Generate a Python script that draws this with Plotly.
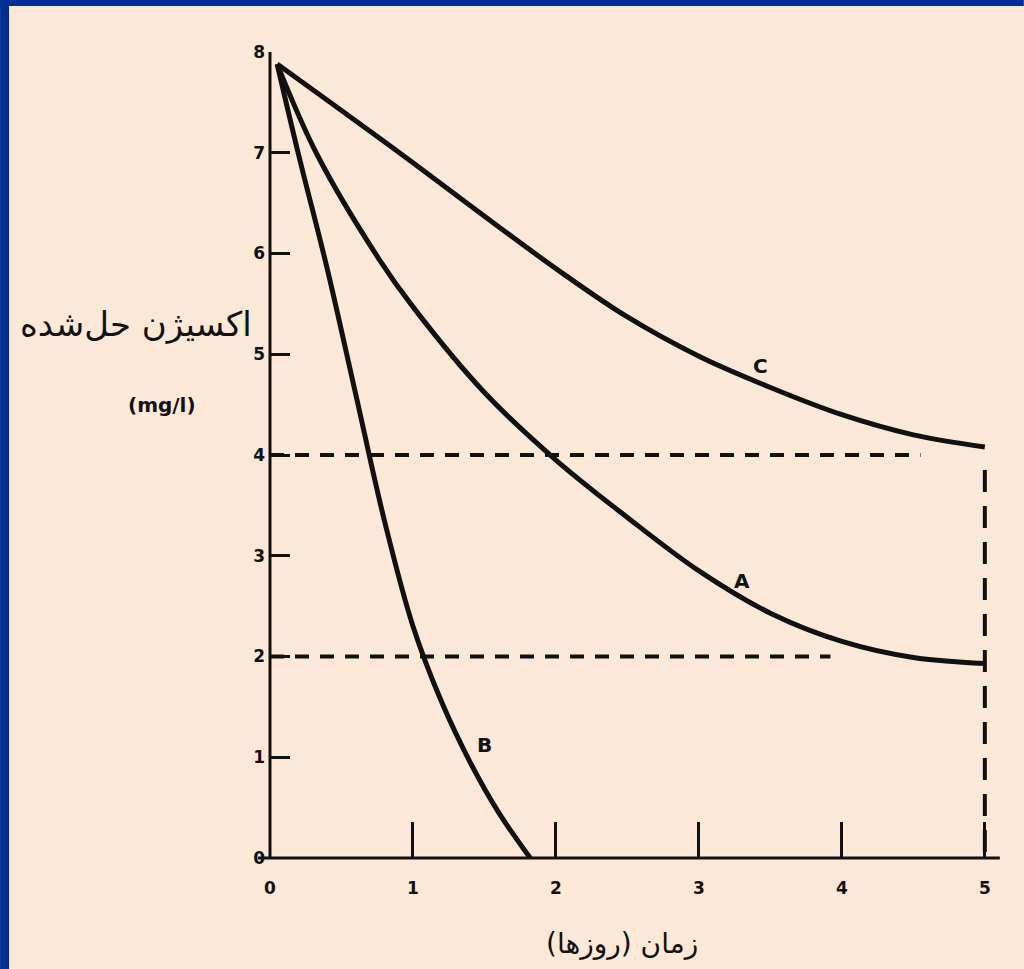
import plotly.graph_objects as go

# Dissolved-oxygen sag curves (mg/l) against time (days)
days_a = [0.05, 0.33, 0.76, 1.0, 1.5, 2.0, 2.5, 3.0, 3.5, 4.0, 4.5, 5.0]
oxygen_a = [7.88, 6.98, 5.95, 5.47, 4.62, 3.95, 3.38, 2.85, 2.43, 2.15, 1.99, 1.93]

days_b = [0.05, 0.2, 0.4, 0.6, 0.8, 1.0, 1.2, 1.4, 1.6, 1.82]
oxygen_b = [7.88, 6.98, 5.85, 4.6, 3.35, 2.3, 1.55, 0.95, 0.45, 0.0]

days_c = [0.05, 0.5, 1.0, 1.5, 2.0, 2.5, 3.0, 3.5, 4.0, 4.5, 5.0]
oxygen_c = [7.88, 7.42, 6.9, 6.37, 5.85, 5.37, 4.98, 4.67, 4.4, 4.2, 4.08]

# Reference levels (dashed guides)
level_values = [4, 2]
level_ends = [4.55, 3.92]
end_day = 5
end_top = 3.85

x_ticks = [0, 1, 2, 3, 4, 5]
y_ticks = [0, 1, 2, 3, 4, 5, 6, 7, 8]

curve_labels = ["A", "B", "C"]
curve_label_x = [3.30, 1.50, 3.43]
curve_label_y = [2.75, 1.12, 4.88]

INK = "#111111"
PAPER = "#FCE8D6"
BLUE = "#00308F"

fig = go.Figure()

dash = "14px,11px"
for lv, le in zip(level_values, level_ends):
    fig.add_trace(go.Scatter(x=[0, le], y=[lv, lv], mode="lines",
                             line=dict(color=INK, width=4, dash=dash),
                             hoverinfo="skip", showlegend=False))
fig.add_trace(go.Scatter(x=[end_day, end_day], y=[end_top, 0], mode="lines",
                         line=dict(color=INK, width=4, dash="22px,14px"),
                         hoverinfo="skip", showlegend=False))

for xs, ys in [(days_a, oxygen_a), (days_b, oxygen_b), (days_c, oxygen_c)]:
    fig.add_trace(go.Scatter(x=xs, y=ys, mode="lines",
                             line=dict(color=INK, width=5, shape="spline", smoothing=1.0),
                             hoverinfo="skip", showlegend=False, cliponaxis=False))

for t, lx, ly in zip(curve_labels, curve_label_x, curve_label_y):
    fig.add_annotation(x=lx, y=ly, text=t, showarrow=False,
                       font=dict(family="DejaVu Sans", size=20, color=INK, weight="bold"))

W, H = 1024, 969
X_MAX = 5.12
L, T, B = 270, 52, 111
UNIT_X = 143
pw = X_MAX * UNIT_X
R = W - L - pw
ph = H - T - B


def px(p):
    return (p - L) / pw


def py(p):
    return (H - B - p) / ph


shapes = [
    # axis lines
    dict(type="line", xref="paper", yref="paper", x0=px(258), x1=px(1000), y0=0, y1=0,
         line=dict(color=INK, width=3)),
    dict(type="line", xref="paper", yref="paper", x0=0, x1=0, y0=0, y1=1,
         line=dict(color=INK, width=3)),
    # frame border
    dict(type="rect", xref="paper", yref="paper", x0=px(0), x1=px(9), y0=py(H), y1=py(0),
         fillcolor=BLUE, line=dict(width=0), layer="above"),
    dict(type="rect", xref="paper", yref="paper", x0=px(0), x1=px(W), y0=py(6), y1=py(0),
         fillcolor=BLUE, line=dict(width=0), layer="above"),
]

fig.add_annotation(xref="paper", yref="paper", x=px(136), y=py(324),
                   xanchor="center", yanchor="middle",
                   text="اکسیژن حل‌شده", showarrow=False,
                   font=dict(family="DejaVu Sans", size=34, color=INK))
fig.add_annotation(xref="paper", yref="paper", x=px(162), y=py(405),
                   xanchor="center", yanchor="middle",
                   text="(mg/l)", showarrow=False,
                   font=dict(family="DejaVu Sans", size=20, color=INK, weight="bold"))
fig.add_annotation(xref="paper", yref="paper", x=px(622), y=py(943),
                   xanchor="center", yanchor="middle",
                   text="زمان (روزها)", showarrow=False,
                   font=dict(family="DejaVu Sans", size=28, color=INK))

fig.update_layout(
    width=W, height=H,
    margin=dict(l=L, r=R, t=T, b=B),
    paper_bgcolor=PAPER, plot_bgcolor=PAPER,
    shapes=shapes,
    xaxis=dict(range=[0, X_MAX], tickvals=x_ticks, ticktext=[str(v) for v in x_ticks],
               ticks="inside", ticklen=36, tickwidth=3, tickcolor=INK,
               showline=False, showgrid=False, zeroline=False,
               ticklabelstandoff=18,
               tickfont=dict(family="DejaVu Sans", size=17, color=INK, weight="bold")),
    yaxis=dict(range=[0, 8], tickvals=y_ticks, ticktext=[str(v) for v in y_ticks],
               ticks="inside", ticklen=20, tickwidth=3, tickcolor=INK,
               showline=False, showgrid=False, zeroline=False,
               ticklabelstandoff=4,
               tickfont=dict(family="DejaVu Sans", size=17, color=INK, weight="bold")),
)

fig.write_html("out.html")
